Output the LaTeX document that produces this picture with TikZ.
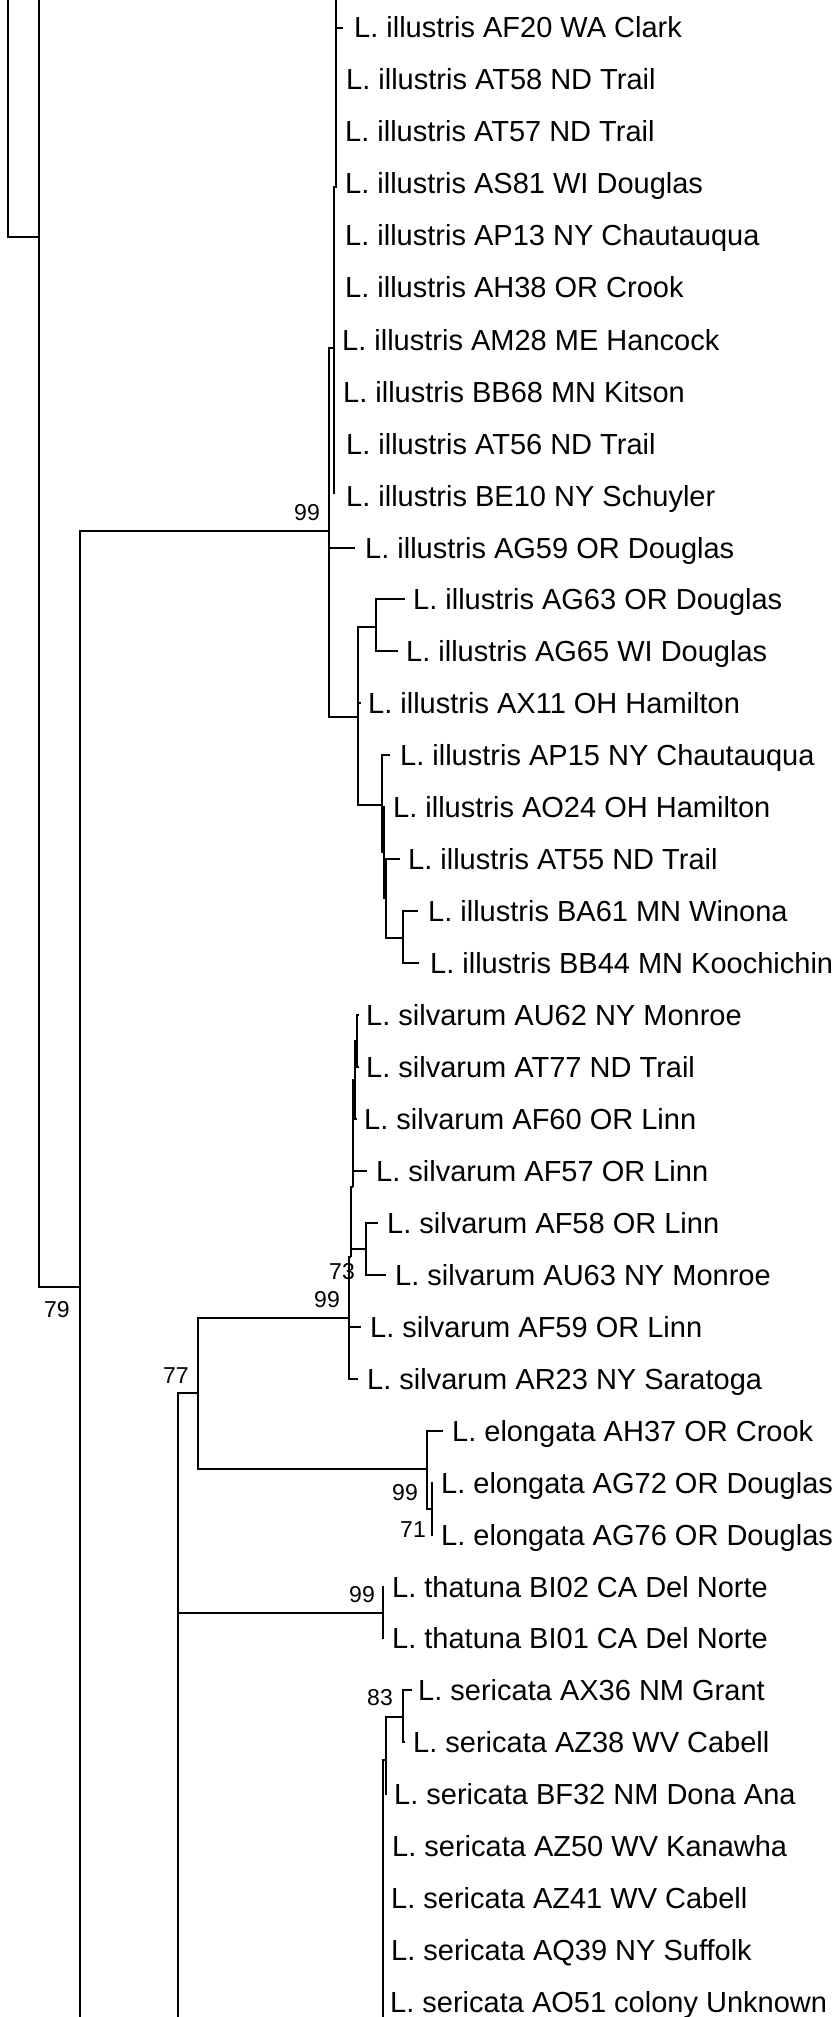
\documentclass[tikz,border=0pt]{standalone}
\usepackage{fontspec}
\setmainfont{Liberation Sans}
\begin{document}
\begin{tikzpicture}[x=1pt,y=-1pt,
  br/.style={line width=2pt, line cap=butt, line join=miter},
  leaf/.style={anchor=base west, inner sep=0pt, font=\fontsize{29}{31}\selectfont},
  bs/.style={anchor=center, inner sep=0pt, font=\fontsize{23}{25}\selectfont}]
\useasboundingbox (0,0) rectangle (833,2017);
% ---- internal node coordinates
\coordinate (n8) at (8,0);
\coordinate (n39) at (39,237);
\coordinate (n39t) at (39,0);
\coordinate (n80) at (80,1287);
\coordinate (n80b) at (80,2017);
\coordinate (n178b) at (178,2017);
\coordinate (n198) at (198,1393);
\coordinate (ill) at (329,531);
\coordinate (I1) at (334,348);
\coordinate (I1b) at (334,187);
\coordinate (I1c) at (336,187);
\coordinate (I1t) at (336,0);
\coordinate (I1d) at (334,494);
\coordinate (I2) at (358,717);
\coordinate (AGp) at (376,627);
\coordinate (I3) at (382,805);
\coordinate (I4) at (384,852);
\coordinate (I5) at (386,898);
\coordinate (BAp) at (403,938);
\coordinate (S0) at (349,1318);
\coordinate (S1) at (351,1257);
\coordinate (S2) at (353,1187);
\coordinate (S3) at (355,1080);
\coordinate (S4) at (357,1041);
\coordinate (AFp) at (366,1249);
\coordinate (E0) at (427,1469);
\coordinate (E1) at (432,1509);
\coordinate (T) at (383,1613);
\coordinate (seb) at (383,2017);
\coordinate (SE) at (386,1760);
\coordinate (s83) at (403,1717);
% ---- tip coordinates
\coordinate (tAF20a) at (336,28);
\coordinate (tAF20) at (343,28);
\coordinate (tAG59) at (355,548);
\coordinate (tAG63) at (405,599);
\coordinate (tAG65) at (398,651);
\coordinate (tAX11) at (361,703);
\coordinate (tAP15) at (390,755);
\coordinate (tAO24) at (385,807);
\coordinate (tAT55) at (400,859);
\coordinate (tBA61) at (418,911);
\coordinate (tBB44) at (419,963);
\coordinate (tAU62) at (359,1015);
\coordinate (tAT77) at (359,1067);
\coordinate (tAF60) at (357,1119);
\coordinate (tAF57) at (367,1171);
\coordinate (tAF58) at (378,1223);
\coordinate (tAU63) at (386,1275);
\coordinate (tAF59) at (361,1327);
\coordinate (tAR23) at (358,1379);
\coordinate (tAH37) at (443,1431);
\coordinate (tAG72) at (433,1483);
\coordinate (tAG76) at (433,1535);
\coordinate (tBI02) at (384,1587);
\coordinate (tBI01) at (384,1638);
\coordinate (tAX36) at (412,1690);
\coordinate (tAZ38) at (405,1742);
\coordinate (tBF32) at (387,1794);
% ---- branches
\begin{scope}[br]
\draw (n8) |- (n39);
\draw (n39t) |- (n80);
\draw (n80) |- (ill);
\draw (n80) -- (n80b);
\draw (n178b) |- (n198);
\draw (n178b) |- (T);
% illustris
\draw (ill) |- (I1);
\draw (I1) -- (I1d);
\draw (I1) -- (I1b) -- (I1c) -- (I1t);
\draw (tAF20a) -- (tAF20);
\draw (ill) |- (tAG59);
\draw (ill) |- (I2);
\draw (I2) |- (AGp);
\draw (AGp) |- (tAG63);
\draw (AGp) |- (tAG65);
\draw (I2) |- (tAX11);
\draw (I2) |- (I3);
\draw (I3) |- (tAP15);
\draw (I3) |- (I4);
\draw (I4) |- (tAO24);
\draw (I4) |- (I5);
\draw (I5) |- (tAT55);
\draw (I5) |- (BAp);
\draw (BAp) |- (tBA61);
\draw (BAp) |- (tBB44);
% silvarum
\draw (n198) |- (S0);
\draw (S0) |- (S1);
\draw (S0) |- (tAF59);
\draw (S0) |- (tAR23);
\draw (S1) |- (S2);
\draw (S1) |- (AFp);
\draw (S2) |- (S3);
\draw (S2) |- (tAF57);
\draw (S3) |- (S4);
\draw (S3) |- (tAF60);
\draw (S4) |- (tAU62);
\draw (S4) |- (tAT77);
\draw (AFp) |- (tAF58);
\draw (AFp) |- (tAU63);
% elongata
\draw (n198) |- (E0);
\draw (E0) |- (tAH37);
\draw (E0) |- (E1);
\draw (E1) |- (tAG72);
\draw (E1) |- (tAG76);
% thatuna
\draw (T) |- (tBI02);
\draw (T) |- (tBI01);
% sericata
\draw (seb) |- (SE);
\draw (SE) |- (s83);
\draw (SE) |- (tBF32);
\draw (s83) |- (tAX36);
\draw (s83) |- (tAZ38);
\end{scope}
% ---- leaf labels
\node[leaf] (lAF20) at (354,38) {L. illustris AF20 WA Clark};
\node[leaf] (lAT58) at (346,90) {L. illustris AT58 ND Trail};
\node[leaf] (lAT57) at (345,142) {L. illustris AT57 ND Trail};
\node[leaf] (lAS81) at (345,194) {L. illustris AS81 WI Douglas};
\node[leaf] (lAP13) at (345,246) {L. illustris AP13 NY Chautauqua};
\node[leaf] (lAH38) at (345,298) {L. illustris AH38 OR Crook};
\node[leaf] (lAM28) at (342,350) {L. illustris AM28 ME Hancock};
\node[leaf] (lBB68) at (343,402) {L. illustris BB68 MN Kitson};
\node[leaf] (lAT56) at (346,454) {L. illustris AT56 ND Trail};
\node[leaf] (lBE10) at (346,506) {L. illustris BE10 NY Schuyler};
\node[leaf] (lAG59) at (365,558) {L. illustris AG59 OR Douglas};
\node[leaf] (lAG63) at (413,609) {L. illustris AG63 OR Douglas};
\node[leaf] (lAG65) at (406,661) {L. illustris AG65 WI Douglas};
\node[leaf] (lAX11) at (368,713) {L. illustris AX11 OH Hamilton};
\node[leaf] (lAP15) at (400,765) {L. illustris AP15 NY Chautauqua};
\node[leaf] (lAO24) at (393,817) {L. illustris AO24 OH Hamilton};
\node[leaf] (lAT55) at (408,869) {L. illustris AT55 ND Trail};
\node[leaf] (lBA61) at (428,921) {L. illustris BA61 MN Winona};
\node[leaf] (lBB44) at (430,973) {L. illustris BB44 MN Koochichin};
\node[leaf] (lAU62) at (366,1025) {L. silvarum AU62 NY Monroe};
\node[leaf] (lAT77) at (366,1077) {L. silvarum AT77 ND Trail};
\node[leaf] (lAF60) at (364,1129) {L. silvarum AF60 OR Linn};
\node[leaf] (lAF57) at (376,1181) {L. silvarum AF57 OR Linn};
\node[leaf] (lAF58) at (387,1233) {L. silvarum AF58 OR Linn};
\node[leaf] (lAU63) at (395,1285) {L. silvarum AU63 NY Monroe};
\node[leaf] (lAF59) at (370,1337) {L. silvarum AF59 OR Linn};
\node[leaf] (lAR23) at (367,1389) {L. silvarum AR23 NY Saratoga};
\node[leaf] (lAH37) at (452,1441) {L. elongata AH37 OR Crook};
\node[leaf] (lAG72) at (441,1493) {L. elongata AG72 OR Douglas};
\node[leaf] (lAG76) at (441,1545) {L. elongata AG76 OR Douglas};
\node[leaf] (lBI02) at (392,1597) {L. thatuna BI02 CA Del Norte};
\node[leaf] (lBI01) at (392,1648) {L. thatuna BI01 CA Del Norte};
\node[leaf] (lAX36) at (418,1700) {L. sericata AX36 NM Grant};
\node[leaf] (lAZ38) at (413,1752) {L. sericata AZ38 WV Cabell};
\node[leaf] (lBF32) at (394,1804) {L. sericata BF32 NM Dona Ana};
\node[leaf] (lAZ50) at (392,1856) {L. sericata AZ50 WV Kanawha};
\node[leaf] (lAZ41) at (391,1908) {L. sericata AZ41 WV Cabell};
\node[leaf] (lAQ39) at (391,1960) {L. sericata AQ39 NY Suffolk};
\node[leaf] (lAO51) at (390,2012) {L. sericata AO51 colony Unknown};
% ---- bootstrap values
\node[bs] (b99a) at (307,513) {99};
\node[bs] (b79) at (57,1310) {79};
\node[bs] (b77) at (176,1376) {77};
\node[bs] (b99b) at (327,1300) {99};
\node[bs] (b73) at (342,1272) {73};
\node[bs] (b99c) at (405,1493) {99};
\node[bs] (b71) at (413,1530) {71};
\node[bs] (b99d) at (362,1595) {99};
\node[bs] (b83) at (380,1698) {83};
\end{tikzpicture}
\end{document}
